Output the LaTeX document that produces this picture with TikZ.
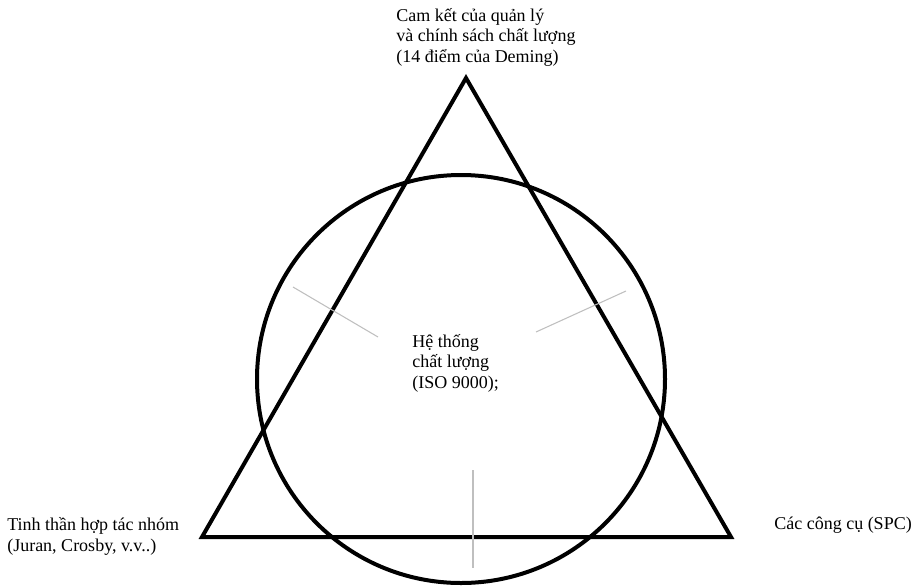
\documentclass[tikz,border=0pt]{standalone}
\usepackage{fontspec}
\setmainfont{Liberation Serif}
\begin{document}
\begin{tikzpicture}[x=0.75pt,y=-0.75pt,
  edge/.style={line width=3pt, line join=miter, black},
  guide/.style={line width=0.8pt, color=black!25},
  lbl/.style={anchor=base west, inner sep=0pt, align=left, font=\fontsize{13.5}{15.3}\selectfont}]
\useasboundingbox (0,0) rectangle (924,586);
\coordinate (A) at (466,78);
\coordinate (B) at (202,537);
\coordinate (C) at (731,537);
\coordinate (O) at (461,379);
\draw[edge] (A) -- (B) -- (C) -- cycle;
\draw[edge] (O) circle[radius=204];
\coordinate (g1a) at (293,287);
\coordinate (g1b) at (378,337);
\coordinate (g2a) at (536,332);
\coordinate (g2b) at (626,291);
\coordinate (g3a) at (473,470);
\coordinate (g3b) at (473,568);
\draw[guide] (g1a) -- (g1b);
\draw[guide] (g2a) -- (g2b);
\draw[guide] (g3a) -- (g3b);
\node[lbl] (top) at (396,62) {Cam kết của quản lý\\và chính sách chất lượng\\(14 điểm của Deming)};
\node[lbl] (mid) at (412,388) {Hệ thống\\chất lượng\\(ISO 9000);};
\node[lbl] (left) at (7,551) {Tinh thần hợp tác nhóm\\(Juran, Crosby, v.v..)};
\node[lbl] (right) at (774,529) {Các công cụ (SPC)};
\end{tikzpicture}
\end{document}
